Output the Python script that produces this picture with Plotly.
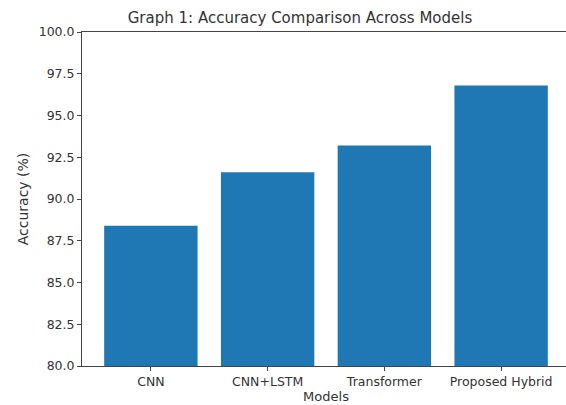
import plotly.graph_objects as go

models = ["CNN", "CNN+LSTM", "Transformer", "Proposed Hybrid"]
accuracy = [88.4, 91.6, 93.2, 96.8]
y_ticks = [80.0, 82.5, 85.0, 87.5, 90.0, 92.5, 95.0, 97.5, 100.0]

fig = go.Figure()
fig.add_trace(go.Bar(x=models, y=accuracy, marker=dict(color="#1f77b4", line=dict(width=0)), width=0.8))

W = 572
font = "DejaVu Sans, sans-serif"
fig.update_layout(
    width=W, height=405,
    margin=dict(l=82, r=2, t=32, b=39),
    paper_bgcolor="white", plot_bgcolor="white",
    font=dict(family=font, size=12.5, color="#333333"),
    title=dict(text="Graph 1: Accuracy Comparison Across Models", x=300 / W, xanchor="center",
               y=0.956, yanchor="middle", font=dict(size=15, color="#333333")),
    showlegend=False,
    xaxis=dict(type="category", range=[-0.59, 3.59], showline=True, linecolor="#444444", linewidth=1,
               mirror=True, ticks="outside", ticklen=4, tickcolor="#444444", showgrid=False,
               tickfont=dict(size=12.5),
               title=dict(text="Models", standoff=2, font=dict(size=13))),
    yaxis=dict(range=[80, 100], tickvals=y_ticks, ticktext=[f"{v:.1f}" for v in y_ticks],
               showline=True, linecolor="#444444", linewidth=1, mirror=True, ticks="outside",
               ticklen=4, tickcolor="#444444", showgrid=False, zeroline=False,
               tickfont=dict(size=12.5),
               title=dict(text="Accuracy (%)", standoff=6, font=dict(size=14))),
)
fig.write_html("out.html", config={"displayModeBar": False},
               post_script="document.body.style.margin='0px';document.body.style.overflow='hidden';")
